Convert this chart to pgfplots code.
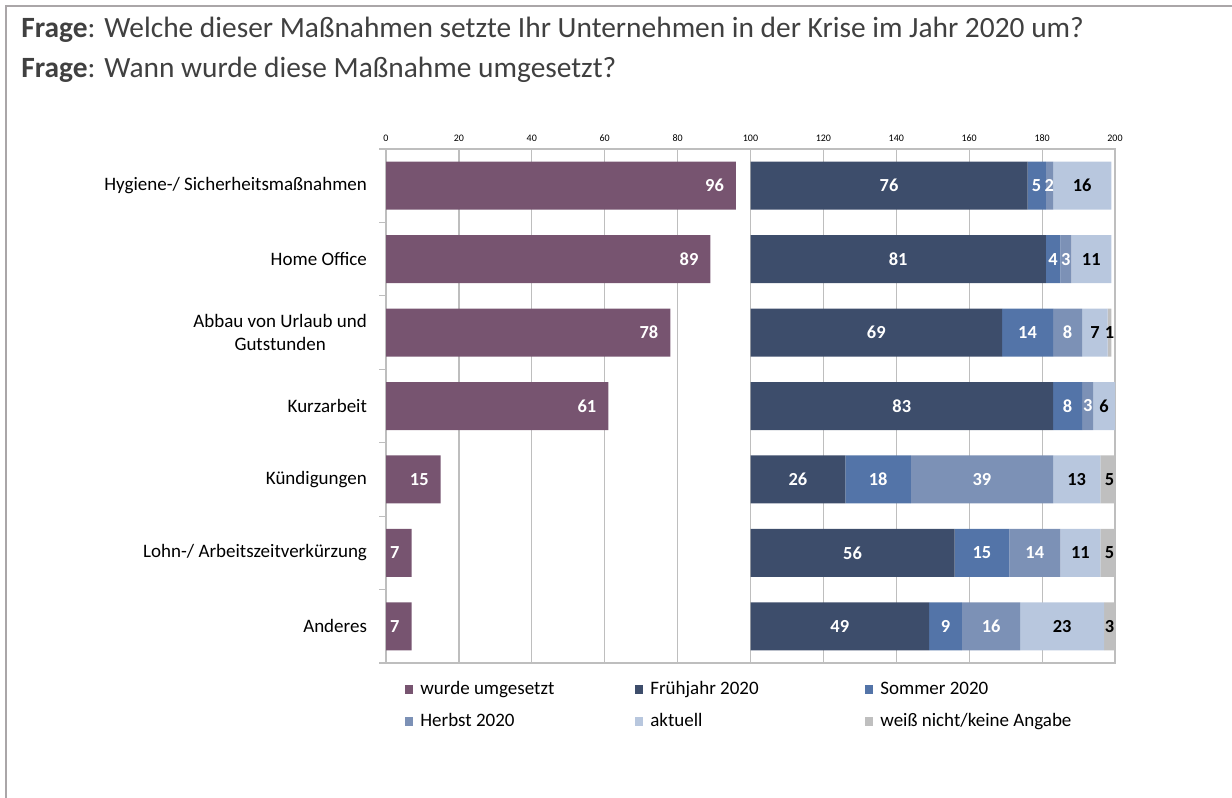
\documentclass[border=0pt]{standalone}
\usepackage{fontspec}
\setmainfont{Carlito}
\usepackage{pgfplots}
\pgfplotsset{compat=1.18}
\usepackage{pgfplotstable}

\definecolor{cPurple}{RGB}{119,84,112}
\definecolor{cFrueh}{RGB}{61,77,107}
\definecolor{cSommer}{RGB}{83,116,168}
\definecolor{cHerbst}{RGB}{124,145,182}
\definecolor{cAktuell}{RGB}{184,199,222}
\definecolor{cWeiss}{RGB}{191,191,191}
\definecolor{cFrame}{RGB}{170,166,168}
\definecolor{cGrid}{RGB}{190,190,190}
\definecolor{cTitle}{RGB}{64,64,64}

\pgfplotstableread{
idx umgesetzt luecke frueh sommer herbst aktuell weiss
0 96 4 76 5 2 16 0
1 89 11 81 4 3 11 0
2 78 22 69 14 8 7 1
3 61 39 83 8 3 6 0
4 15 85 26 18 39 13 5
5 7 93 56 15 14 11 5
6 7 93 49 9 16 23 3
}\datatable

\newcommand{\legtxt}[1]{\makebox[107.5pt][l]{#1}}

\pgfplotsset{
  commonaxis/.style={
    at={(193pt,67.5pt)}, anchor=south west,
    scale only axis, width=364.5pt, height=257pt,
    xmin=0, xmax=200, ymin=-0.5, ymax=6.5, y dir=reverse,
    /pgf/number format/assume math mode=true,
  },
  lbl/.style={
    draw=none, mark=none, forget plot,
    nodes near coords={\pgfmathfloatparsenumber{\pgfplotspointmeta}\pgfmathfloatifflags{\pgfmathresult}{0}{}{\pgfmathprintnumber[assume math mode=true]{\pgfplotspointmeta}}},
    point meta=explicit,
    nodes near coords style={anchor=center, text=#1, font=\fontsize{9.2}{11}\selectfont\bfseries},
  },
}

\begin{document}
\begin{tikzpicture}
\useasboundingbox (0,0) rectangle (616pt,399pt);
\draw[cFrame, line width=1.2pt] (3pt,0) -- (3pt,396pt) -- (616pt,396pt);
\node[anchor=base west, inner sep=0pt, text=cTitle, font=\fontsize{14.7}{16}\selectfont] at (10.5pt,380pt) {\textbf{Frage}: Welche dieser Maßnahmen setzte Ihr Unternehmen in der Krise im Jahr 2020 um?};
\node[anchor=base west, inner sep=0pt, text=cTitle, font=\fontsize{14.7}{16}\selectfont] at (10.5pt,360pt) {\textbf{Frage}: Wann wurde diese Maßnahme umgesetzt?};

\begin{axis}[
  commonaxis,
  xbar stacked, bar width=24pt,
  xtick={0,20,...,200},
  xtick pos=right, xticklabel pos=right,
  xticklabel style={font=\fontsize{5}{6}\selectfont},
  ytick={0,...,6},
  yticklabels={Hygiene-/ Sicherheitsmaßnahmen, Home Office, {Abbau von Urlaub und\\Gutstunden}, Kurzarbeit, Kündigungen, Lohn-/ Arbeitszeitverkürzung, Anderes},
  yticklabel style={align=center, font=\fontsize{9.5}{11.5}\selectfont, xshift=-6pt},
  minor ytick={-0.5,0.5,...,6.5},
  ytick pos=left,
  major tick length=0pt, minor tick length=3.5pt, tick align=outside,
  tick style={cGrid, line width=0.6pt},
  xmajorgrids, major grid style={cGrid, line width=0.6pt},
  axis line style={cGrid, line width=0.6pt},
  legend image code/.code={\fill[#1] (0pt,-2.25pt) rectangle (4pt,2.25pt);},
  legend columns=3,
  legend cell align=left,
  legend style={draw=none, fill=none, inner sep=0pt, row sep=8pt,
    at={(axis description cs:0.026,-0.035)}, anchor=north west,
    font=\fontsize{9.5}{11.5}\selectfont,
    nodes={inner sep=0pt},
    /tikz/every odd column/.append style={column sep=3.5pt}},
]
\addplot[fill=cPurple, draw=none] table[x=umgesetzt, y=idx] {\datatable};
\addlegendentry{\legtxt{wurde umgesetzt}}
\addplot[fill=none, draw=none, forget plot] table[x=luecke, y=idx] {\datatable};
\addplot[fill=cFrueh, draw=none] table[x=frueh, y=idx] {\datatable};
\addlegendentry{\legtxt{Frühjahr 2020}}
\addplot[fill=cSommer, draw=none] table[x=sommer, y=idx] {\datatable};
\addlegendentry{\legtxt{Sommer 2020}}
\addplot[fill=cHerbst, draw=none] table[x=herbst, y=idx] {\datatable};
\addlegendentry{\legtxt{Herbst 2020}}
\addplot[fill=cAktuell, draw=none] table[x=aktuell, y=idx] {\datatable};
\addlegendentry{\legtxt{aktuell}}
\addplot[fill=cWeiss, draw=none] table[x=weiss, y=idx] {\datatable};
\addlegendentry{\legtxt{weiß nicht/keine Angabe}}
\end{axis}

\begin{axis}[commonaxis, hide axis, clip=false]
\addplot[lbl=white, nodes near coords style={anchor=east, xshift=-2.5pt}]
  table[x=umgesetzt, y=idx, meta=umgesetzt] {\datatable};
\addplot[lbl=white] table[x expr={100+\thisrow{frueh}/2}, y=idx, meta=frueh] {\datatable};
\addplot[lbl=white] table[x expr={100+\thisrow{frueh}+\thisrow{sommer}/2}, y=idx, meta=sommer] {\datatable};
\addplot[lbl=white] table[x expr={100+\thisrow{frueh}+\thisrow{sommer}+\thisrow{herbst}/2}, y=idx, meta=herbst] {\datatable};
\addplot[lbl=black] table[x expr={100+\thisrow{frueh}+\thisrow{sommer}+\thisrow{herbst}+\thisrow{aktuell}/2}, y=idx, meta=aktuell] {\datatable};
\addplot[lbl=black] table[x expr={100+\thisrow{frueh}+\thisrow{sommer}+\thisrow{herbst}+\thisrow{aktuell}+\thisrow{weiss}/2}, y=idx, meta=weiss] {\datatable};
\end{axis}
\end{tikzpicture}
\end{document}
